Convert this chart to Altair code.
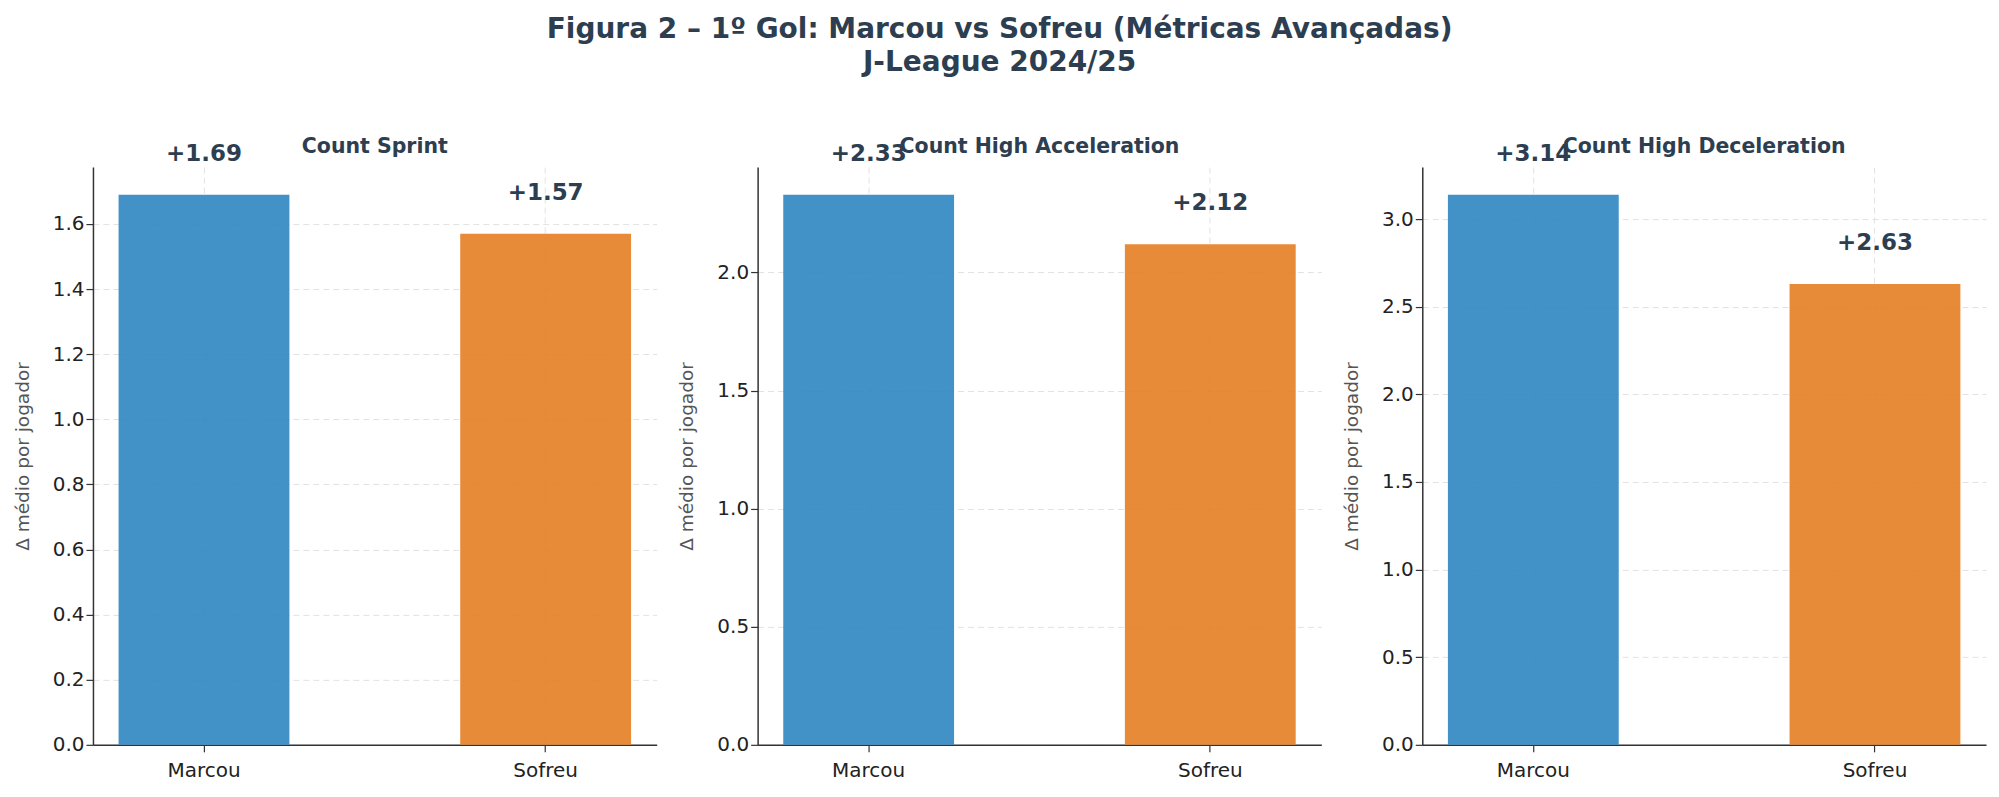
import altair as alt
import pandas as pd

# ---- data ----
categories = ["Marcou", "Sofreu"]
metrics = ["Count Sprint", "Count High Acceleration", "Count High Deceleration"]
sprint_vals = [1.69, 1.57]
accel_vals = [2.33, 2.12]
decel_vals = [3.14, 2.63]
sprint_ticks = [0.0, 0.2, 0.4, 0.6, 0.8, 1.0, 1.2, 1.4, 1.6]
accel_ticks = [0.0, 0.5, 1.0, 1.5, 2.0]
decel_ticks = [0.0, 0.5, 1.0, 1.5, 2.0, 2.5, 3.0]
bar_colors = ["#2E86C1", "#E67E22"]
y_title = "Δ médio por jogador"
main_title = ["Figura 2 – 1º Gol: Marcou vs Sofreu (Métricas Avançadas)", "J-League 2024/25"]

FONT = "DejaVu Sans"
DARK = "#2c3e50"


def panel(title, values, ticks):
    df = pd.DataFrame({"grupo": categories, "valor": values})
    ymax = max(values) * 1.05
    base = alt.Chart(df).encode(
        x=alt.X(
            "grupo:N",
            sort=categories,
            scale=alt.Scale(paddingInner=0.5, paddingOuter=0.075),
            axis=alt.Axis(title=None, labelAngle=0, bandPosition=0.5, grid=True,
                          labelPadding=9),
        ),
        y=alt.Y(
            "valor:Q",
            scale=alt.Scale(domain=[0, ymax], nice=False, zero=True),
            axis=alt.Axis(title=y_title, values=ticks, format=".1f", grid=True,
                          titlePadding=20),
        ),
    )
    bars = base.mark_bar(opacity=0.9).encode(
        color=alt.Color("grupo:N", scale=alt.Scale(domain=categories, range=bar_colors),
                        legend=None)
    )
    labels = base.mark_text(
        baseline="bottom", dy=-29, fontSize=23, fontWeight="bold", color=DARK, font=FONT
    ).transform_calculate(rotulo="'+' + format(datum.valor, '.2f')").encode(
        text="rotulo:N"
    )
    return alt.layer(bars, labels).properties(
        width=564,
        height=578,
        title=alt.TitleParams(title, fontSize=20.5, font=FONT, fontWeight="bold",
                              color=DARK, offset=-14.5, anchor="middle"),
    )


chart = alt.hconcat(
    panel(metrics[0], sprint_vals, sprint_ticks),
    panel(metrics[1], accel_vals, accel_ticks),
    panel(metrics[2], decel_vals, decel_ticks),
    spacing=21,
).properties(
    padding={"top": 8, "left": 5, "right": 5, "bottom": 5},
    title=alt.TitleParams(main_title, fontSize=28, font=FONT, fontWeight="bold",
                          color=DARK, anchor="middle", lineHeight=33, offset=59.5),
).configure_view(stroke=None).configure_axis(
    domainColor="#333333",
    domainWidth=1.5,
    tickColor="#333333",
    tickWidth=1.2,
    tickSize=7,
    labelFont=FONT,
    labelFontSize=20,
    labelColor="#222222",
    titleFont=FONT,
    titleFontSize=18.5,
    titleFontWeight="normal",
    titleColor="#555555",
    gridColor="#e2e2e2",
    gridDash=[6, 4],
    gridWidth=1,
).configure_concat(spacing=21)

chart.save("out.html", embed_options={"renderer": "svg", "actions": False})
